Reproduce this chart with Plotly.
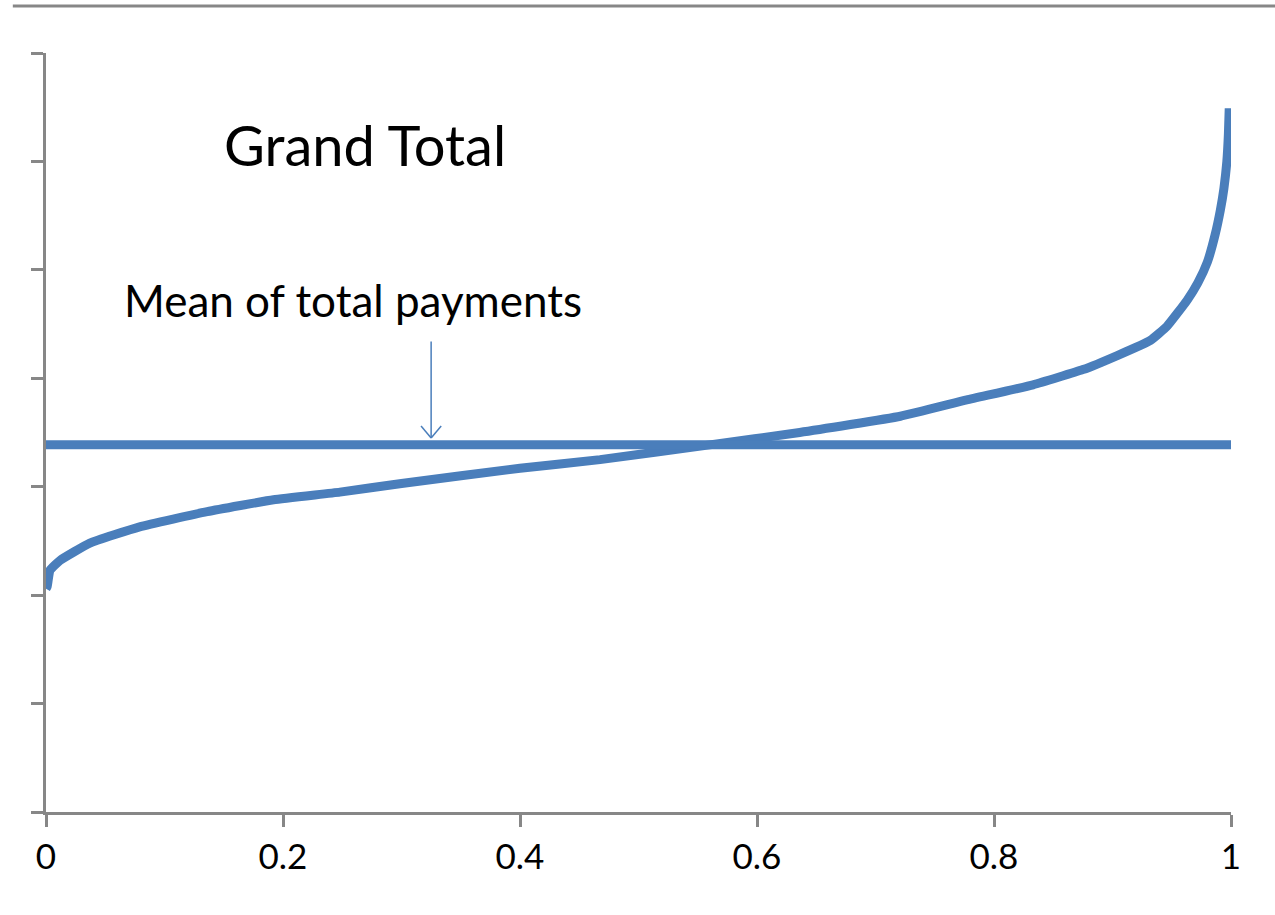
import plotly.graph_objects as go

# Sorted total payments (share of population vs. payment level)
share = [0.0, 0.001, 0.0034, 0.0118, 0.037, 0.079, 0.136, 0.192, 0.248, 0.30,
         0.40, 0.4675, 0.56, 0.636, 0.721, 0.777, 0.833, 0.875, 0.904, 0.932,
         0.946, 0.963, 0.972, 0.980, 0.9865, 0.991, 0.994, 0.9965, 0.9978, 0.9985]
payment = [2.06, 2.08, 2.23, 2.32, 2.48, 2.63, 2.77, 2.88, 2.95, 3.03,
           3.17, 3.25, 3.386, 3.50, 3.65, 3.80, 3.94, 4.08, 4.21, 4.35,
           4.48, 4.72, 4.88, 5.07, 5.32, 5.55, 5.75, 6.00, 6.25, 6.49]
mean_payment = 3.386

x_ticks = [0, 0.2, 0.4, 0.6, 0.8, 1]
x_tick_text = ["0", "0.2", "0.4", "0.6", "0.8", "1"]

# arrow pointing at the mean line
arrow_x = 0.325
arrow_tip = 3.45
arrow_tail = 4.34

BLUE = "#4a7ebb"
GRAY = "#878787"
FONT = "Lato"

fig = go.Figure()
fig.add_trace(go.Scatter(x=share, y=payment, mode="lines",
                         line=dict(color=BLUE, width=9, shape="spline", smoothing=0.4),
                         cliponaxis=False, showlegend=False))
fig.add_trace(go.Scatter(x=[0, 1], y=[mean_payment, mean_payment], mode="lines",
                         line=dict(color=BLUE, width=9),
                         cliponaxis=False, showlegend=False))

shapes = [
    # frame line across the top
    dict(type="line", xref="paper", yref="paper", x0=-0.028, x1=1.04, y0=1.062, y1=1.062,
         line=dict(color=GRAY, width=3)),
    # arrow shaft and open head
    dict(type="line", x0=arrow_x, x1=arrow_x, y0=arrow_tail, y1=arrow_tip,
         line=dict(color=BLUE, width=1.5)),
    dict(type="line", x0=arrow_x - 0.0085, x1=arrow_x, y0=arrow_tip + 0.11, y1=arrow_tip,
         line=dict(color=BLUE, width=1.5)),
    dict(type="line", x0=arrow_x + 0.0085, x1=arrow_x, y0=arrow_tip + 0.11, y1=arrow_tip,
         line=dict(color=BLUE, width=1.5)),
]

annotations = [
    dict(x=0.1485, y=6.16, text="Grand Total", showarrow=False, xanchor="left",
         yanchor="middle", font=dict(family=FONT, size=56, color="black")),
    dict(x=0.064, y=4.72, text="Mean of total payments", showarrow=False, xanchor="left",
         yanchor="middle", font=dict(family=FONT, size=44, color="black")),
]

fig.update_layout(
    width=1275, height=915,
    margin=dict(l=46, r=44, t=53, b=103),
    paper_bgcolor="white", plot_bgcolor="white",
    shapes=shapes, annotations=annotations,
    xaxis=dict(range=[0, 1], tickvals=x_ticks, ticktext=x_tick_text,
               showgrid=False, zeroline=False, showline=True, linecolor=GRAY, linewidth=3,
               ticks="outside", ticklen=12, tickwidth=3, tickcolor=GRAY,
               tickfont=dict(family=FONT, size=35, color="black")),
    yaxis=dict(range=[0, 7], dtick=1, showticklabels=False,
               showgrid=False, zeroline=False, showline=True, linecolor=GRAY, linewidth=3,
               ticks="outside", ticklen=12, tickwidth=3, tickcolor=GRAY),
)

fig.write_html("out.html")
